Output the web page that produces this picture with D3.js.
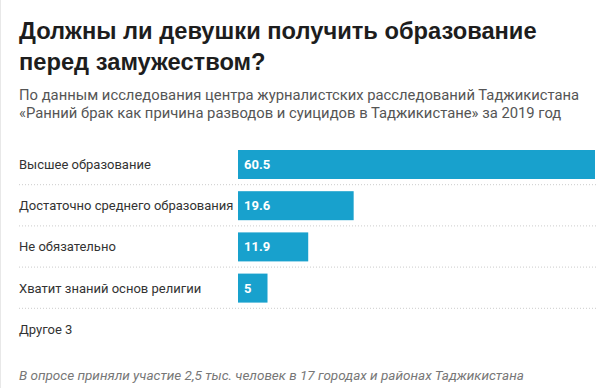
<!DOCTYPE html>
<html>
<head>
<meta charset="utf-8">
<script src="https://cdn.jsdelivr.net/npm/d3@7"></script>
<style>
  body { margin: 0; background: #fff; font-family: Roboto, "Noto Sans", sans-serif; }
  #content { width: 601px; height: 388px; overflow: hidden; }
</style>
</head>
<body>
<div id="content"></div>
<script>
var Width = 601;
var Height = 388;

// данные
var categories = ["Высшее образование", "Достаточно среднего образования", "Не обязательно", "Хватит знаний основ религии", "Другое 3"];
var values = [60.5, 19.6, 11.9, 5, null];
var titleLines = ["Должны ли девушки получить образование", "перед замужеством?"];
var subtitleLines = ["По данным исследования центра журналистских расследований Таджикистана", "«Ранний брак как причина разводов и суицидов в Таджикистане» за 2019 год"];
var note = "В опросе приняли участие 2,5 тыс. человек в 17 городах и районах Таджикистана";

var svg = d3.select("#content").append("svg")
  .attr("width", Width)
  .attr("height", Height);

// левая граница
svg.append("line")
  .attr("x1", 0.5).attr("x2", 0.5)
  .attr("y1", 0).attr("y2", Height)
  .attr("stroke", "#e8e8e8");

// заголовок
svg.selectAll(".title").data(titleLines).enter().append("text")
  .attr("class", "title")
  .attr("x", 19)
  .attr("y", 39)
  .attr("dy", function (d, i) { return i * 31; })
  .attr("font-family", "'Liberation Sans', Arial, sans-serif")
  .attr("font-size", 23.7)
  .attr("font-weight", 700)
  .attr("fill", "#1d1d1d")
  .text(function (d) { return d; });

svg.selectAll(".sub").data(subtitleLines).enter().append("text")
  .attr("class", "sub")
  .attr("x", 19)
  .attr("y", function (d, i) { return 100 + i * 18; })
  .attr("font-size", 14.8)
  .attr("fill", "#555")
  .text(function (d) { return d; });

// шкалы
var xScale = d3.scaleLinear().domain([0, 60.5]).range([238, 595]);
var yScale = d3.scaleBand().domain(categories).range([144, 350]).paddingInner(0);
var barH = 29;

var rows = svg.selectAll(".row").data(categories).enter().append("g")
  .attr("class", "row")
  .attr("transform", function (d) { return "translate(0," + yScale(d) + ")"; });

rows.append("text")
  .attr("x", 19)
  .attr("y", 6 + barH / 2)
  .attr("dy", "0.35em")
  .attr("font-size", 13)
  .attr("fill", "#333")
  .text(function (d) { return d; });

rows.filter(function (d, i) { return i < categories.length - 1; })
  .append("line")
  .attr("x1", 19).attr("x2", 596)
  .attr("y1", yScale.bandwidth() - 0.5).attr("y2", yScale.bandwidth() - 0.5)
  .attr("stroke", "#ccc")
  .attr("stroke-dasharray", "1,2");

rows.filter(function (d, i) { return values[i] != null; })
  .append("rect")
  .attr("x", xScale(0))
  .attr("y", 6)
  .attr("width", function (d) { return xScale(values[categories.indexOf(d)]) - xScale(0); })
  .attr("height", barH)
  .attr("fill", "#18a1cd");

rows.filter(function (d, i) { return values[i] != null; })
  .append("text")
  .attr("x", xScale(0) + 6)
  .attr("y", 6 + barH / 2)
  .attr("dy", "0.35em")
  .attr("font-size", 13)
  .attr("font-weight", 700)
  .attr("fill", "#fff")
  .text(function (d) { return values[categories.indexOf(d)]; });

// примечание
svg.append("text")
  .attr("x", 19)
  .attr("y", 380)
  .attr("font-size", 13.5)
  .attr("font-style", "italic")
  .attr("fill", "#777")
  .text(note);
</script>
</body>
</html>
